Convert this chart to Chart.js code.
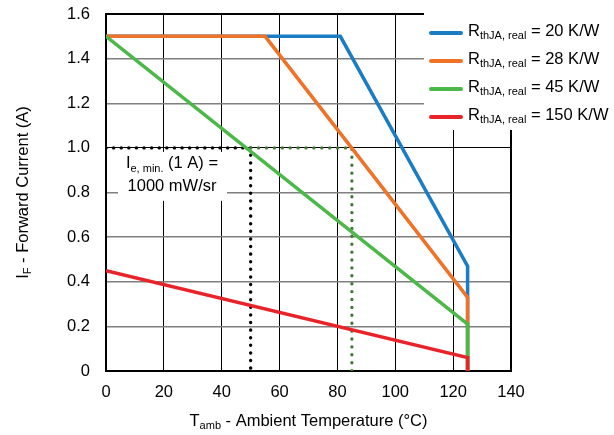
<!DOCTYPE html>
<html>
<head>
<meta charset="utf-8">
<script src="https://cdn.jsdelivr.net/npm/chart.js@4.4.1/dist/chart.umd.min.js"></script>
<style>
    html, body { margin: 0; padding: 0; background: #fff; }
    #wrap { width: 614px; height: 435px; }
</style>
</head>
<body>
<div id="wrap"><canvas id="chart"></canvas></div>
<script>
// derating curves
const rthLabels = ['20', '28', '45', '150'];
const colors    = ['#1b7cc6', '#f07226', '#4cb848', '#e8232a'];

const temp20  = [0, 81, 125, 125];
const curr20  = [1.5, 1.5, 0.47, 0];
const temp28  = [0, 55, 125, 125];
const curr28  = [1.5, 1.5, 0.33, 0];
const temp45  = [0, 125, 125];
const curr45  = [1.5, 0.21, 0];
const temp150 = [0, 125, 125];
const curr150 = [0.45, 0.06, 0];

// dotted guide lines
const guideBlackT = [0, 50, 50];
const guideBlackI = [1.0, 1.0, 0];
const guideGreenT = [50, 85, 85];
const guideGreenI = [1.0, 1.0, 0];

const xMin = 0, xMax = 140, xStep = 20;
const yMin = 0, yMax = 1.6, yStep = 0.2;

const FONT = '"Liberation Sans", Arial, sans-serif';

function pts(xs, ys) {
    return xs.map(function (x, i) { return {x: x, y: ys[i]}; });
}

// text with one subscript part: [before, sub, after]
function drawRich(ctx, parts, x, y, size, align) {
    var subSize = Math.round(size * 0.68);
    ctx.font = size + 'px ' + FONT;
    var w0 = ctx.measureText(parts[0]).width;
    var w2 = ctx.measureText(parts[2]).width;
    ctx.font = subSize + 'px ' + FONT;
    var w1 = ctx.measureText(parts[1]).width;
    var total = w0 + w1 + w2;
    var left = x;
    if (align === 'center') left = x - total / 2;
    if (align === 'right') left = x - total;
    ctx.fillStyle = '#000';
    ctx.textBaseline = 'middle';
    ctx.textAlign = 'left';
    ctx.font = size + 'px ' + FONT;
    ctx.fillText(parts[0], left, y);
    ctx.font = subSize + 'px ' + FONT;
    ctx.fillText(parts[1], left + w0, y + size * 0.32);
    ctx.font = size + 'px ' + FONT;
    ctx.fillText(parts[2], left + w0 + w1, y);
}

const decorations = {
    id: 'decorations',
    beforeDatasetsDraw(chart) {
        var ctx = chart.ctx, a = chart.chartArea;
        var ys = chart.scales.y;
        ctx.save();
        // top and right frame
        ctx.strokeStyle = '#000';
        ctx.lineWidth = 2;
        ctx.beginPath();
        ctx.moveTo(a.left, a.top);
        ctx.lineTo(a.right, a.top);
        ctx.lineTo(a.right, a.bottom);
        ctx.stroke();
        // white boxes for legend and annotation
        ctx.fillStyle = '#fff';
        ctx.fillRect(424, 0, 190, 130);
        var boxTop = ys.getPixelForValue(1.0) + 4;
        ctx.fillRect(118, boxTop, 109, 49);
        ctx.restore();
    },
    afterDraw(chart) {
        var ctx = chart.ctx, a = chart.chartArea;
        var ys = chart.scales.y;
        ctx.save();
        // legend
        for (var i = 0; i < rthLabels.length; i++) {
            var y = 33 + i * 28;
            ctx.strokeStyle = colors[i];
            ctx.lineWidth = 4;
            ctx.lineCap = 'round';
            ctx.beginPath();
            ctx.moveTo(431, y);
            ctx.lineTo(461, y);
            ctx.stroke();
            drawRich(ctx, ['R', 'thJA, real', ' = ' + rthLabels[i] + ' K/W'], 468, y - 2, 16.5, 'left');
        }
        // annotation
        var y1 = ys.getPixelForValue(1.0);
        drawRich(ctx, ['I', 'e, min.', ' (1 A) ='], 172, y1 + 16, 16.5, 'center');
        drawRich(ctx, ['1000 mW/sr', '', ''], 172, y1 + 39, 16.5, 'center');
        // axis titles
        drawRich(ctx, ['T', 'amb', ' - Ambient Temperature (\u00b0C)'], (a.left + a.right) / 2, 421, 16.5, 'center');
        ctx.translate(23, (a.top + a.bottom) / 2);
        ctx.rotate(-Math.PI / 2);
        drawRich(ctx, ['I', 'F', ' - Forward Current (A)'], 0, 0, 16.5, 'center');
        ctx.restore();
    }
};

const lineSet = function (data, color, order) {
    return {
        data: data,
        borderColor: color,
        borderWidth: 3.5,
        showLine: true,
        pointRadius: 0,
        fill: false,
        order: order
    };
};

const datasets = [
    lineSet(pts(temp20, curr20), colors[0], 4),
    lineSet(pts(temp28, curr28), colors[1], 3),
    lineSet(pts(temp45, curr45), colors[2], 2),
    lineSet(pts(temp150, curr150), colors[3], 1),
    {
        data: pts(guideBlackT, guideBlackI),
        borderColor: '#000',
        borderWidth: 3.4,
        borderDash: [0.1, 7.5],
        borderCapStyle: 'round',
        showLine: true,
        pointRadius: 0,
        order: 6
    },
    {
        data: pts(guideGreenT, guideGreenI),
        borderColor: '#3f7832',
        borderWidth: 3.3,
        borderDash: [0.1, 7.8],
        borderCapStyle: 'round',
        showLine: true,
        pointRadius: 0,
        order: 5
    }
];

new Chart(document.getElementById('chart'), {
    type: 'scatter',
    data: {datasets: datasets},
    options: {
        responsive: true,
        maintainAspectRatio: false,
        animation: false,
        layout: {padding: {left: 0, right: 103, top: 14, bottom: 0}},
        plugins: {
            legend: {display: false},
            tooltip: {enabled: false}
        },
        scales: {
            x: {
                type: 'linear',
                min: xMin,
                max: xMax,
                afterFit: function (scale) {
                    scale.height = 64;
                    scale.paddingLeft = 0;
                    scale.paddingRight = 0;
                },
                ticks: {
                    stepSize: xStep,
                    padding: 12,
                    color: '#000',
                    font: {family: FONT, size: 16.5}
                },
                grid: {
                    color: '#000',
                    lineWidth: 1,
                    drawTicks: false
                },
                border: {color: '#000', width: 2}
            },
            y: {
                type: 'linear',
                min: yMin,
                max: yMax,
                afterFit: function (scale) {
                    scale.width = 106;
                    scale.paddingTop = 0;
                    scale.paddingBottom = 0;
                },
                ticks: {
                    stepSize: yStep,
                    padding: 16,
                    color: '#000',
                    font: {family: FONT, size: 16.5},
                    callback: function (v) { return v === 0 ? '0' : v.toFixed(1); }
                },
                grid: {
                    color: function (c) {
                        return (c.tick && Math.abs(c.tick.value - 1) < 1e-6) ? '#000' : '#7f7f7f';
                    },
                    lineWidth: function (c) {
                        return (c.tick && Math.abs(c.tick.value - 1) < 1e-6) ? 1 : 1.5;
                    },
                    drawTicks: false
                },
                border: {color: '#000', width: 2}
            }
        }
    },
    plugins: [decorations]
});
</script>
</body>
</html>
